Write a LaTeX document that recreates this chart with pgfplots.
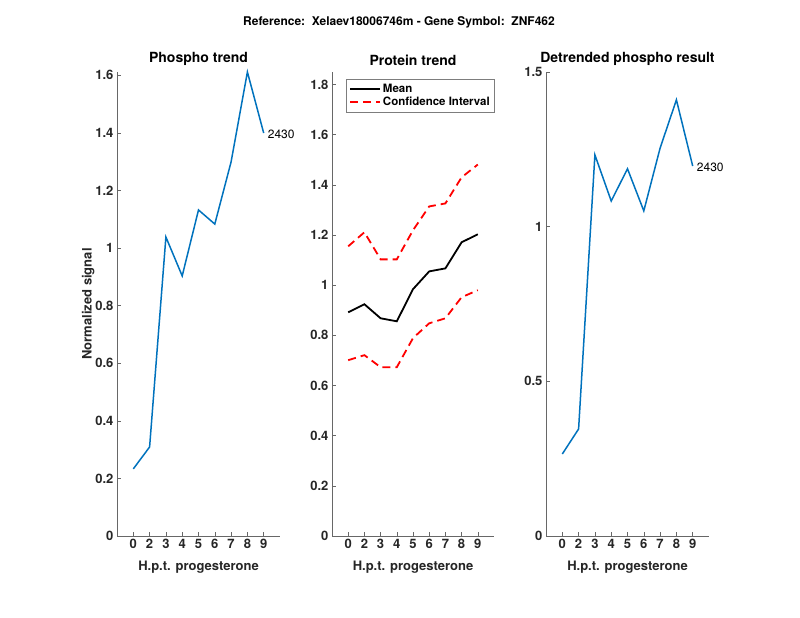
\documentclass[border=0pt]{standalone}
\usepackage{pgfplots}
\pgfplotsset{compat=1.18}
\usepackage{fontspec}
\setmainfont{TeX Gyre Heros}
\definecolor{mblue}{rgb}{0,0.447,0.741}
\definecolor{axgray}{rgb}{0.15,0.15,0.15}

\pgfplotsset{
  panel/.style={
    scale only axis,
    anchor=south west,
    height=464pt,
    clip=false,
    xmin=0, xmax=10, ymin=0,
    axis x line*=bottom, axis y line*=left,
    axis line style={-, draw=axgray!70, line width=0.6pt},
    tick style={draw=axgray!70, line width=0.5pt},
    tick align=inside,
    major tick length=4pt,
    xtick={1,...,9},
    xticklabels={0,2,3,4,5,6,7,8,9},
    tick label style={font=\fontsize{13}{15}\selectfont\bfseries, text=axgray},
    /pgf/number format/assume math mode=true,
    xlabel={H.p.t. progesterone},
    xlabel style={font=\fontsize{13}{15}\selectfont\bfseries, text=axgray, yshift=-5pt},
    title style={font=\fontsize{14}{16}\selectfont\bfseries, yshift=-3pt},
    ylabel style={font=\fontsize{13}{15}\selectfont\bfseries, text=axgray},
  }
}

\begin{document}
\begin{tikzpicture}[x=1pt,y=1pt]
\path[use as bounding box] (0,0) rectangle (800,618);
\node[font=\fontsize{12}{14}\selectfont\bfseries] at (399,596) {Reference:\ \ Xelaev18006746m - Gene Symbol:\ \ ZNF462};

\begin{axis}[panel, at={(117pt,82pt)}, width=163pt,
  ymax=1.611, ytick={0,0.2,...,1.6},
  yticklabels={0,0.2,0.4,0.6,0.8,1,1.2,1.4,1.6},
  title={Phospho trend}, ylabel={Normalized signal}, ylabel shift=-6pt]
\addplot[mblue, line width=1.5pt] coordinates {
  (1,0.233) (2,0.309) (3,1.038) (4,0.903) (5,1.132) (6,1.083) (7,1.299) (8,1.611) (9,1.399)};
\node[anchor=west, font=\fontsize{12}{14}\selectfont, inner sep=0pt, xshift=4pt, yshift=-1pt] at (axis cs:9,1.399) {2430};
\end{axis}

\begin{axis}[panel, at={(332pt,82pt)}, width=162pt,
  ymax=1.85, ytick={0,0.2,...,1.8},
  yticklabels={0,0.2,0.4,0.6,0.8,1,1.2,1.4,1.6,1.8},
  title={Protein trend},
  legend style={at={(0.086,0.985)}, anchor=north west, draw=axgray!60, line width=0.5pt,
    font=\fontsize{11.5}{14}\selectfont\bfseries, row sep=-1pt, inner sep=3pt},
  legend image code/.code={\draw[#1] (0pt,0pt) -- (30pt,0pt);},
  legend cell align=left]
\addplot[black, line width=1.8pt] coordinates {
  (1,0.892) (2,0.924) (3,0.868) (4,0.856) (5,0.984) (6,1.055) (7,1.067) (8,1.171) (9,1.203)};
\addlegendentry{Mean}
\addplot[red, line width=1.8pt, dash pattern=on 8pt off 5pt] coordinates {
  (1,1.155) (2,1.211) (3,1.103) (4,1.103) (5,1.219) (6,1.314) (7,1.326) (8,1.430) (9,1.481)};
\addlegendentry{Confidence Interval}
\addplot[red, line width=1.8pt, dash pattern=on 8pt off 5pt, forget plot] coordinates {
  (1,0.701) (2,0.721) (3,0.673) (4,0.673) (5,0.789) (6,0.848) (7,0.868) (8,0.952) (9,0.980)};
\end{axis}

\begin{axis}[panel, at={(546pt,82pt)}, width=163pt,
  ymax=1.5, ytick={0,0.5,1,1.5},
  yticklabels={0,0.5,1,1.5},
  title={Detrended phospho result}]
\addplot[mblue, line width=1.5pt] coordinates {
  (1,0.265) (2,0.346) (3,1.232) (4,1.083) (5,1.187) (6,1.051) (7,1.254) (8,1.410) (9,1.196)};
\node[anchor=west, font=\fontsize{12}{14}\selectfont, inner sep=0pt, xshift=4pt, yshift=-1pt] at (axis cs:9,1.196) {2430};
\end{axis}
\end{tikzpicture}
\end{document}
